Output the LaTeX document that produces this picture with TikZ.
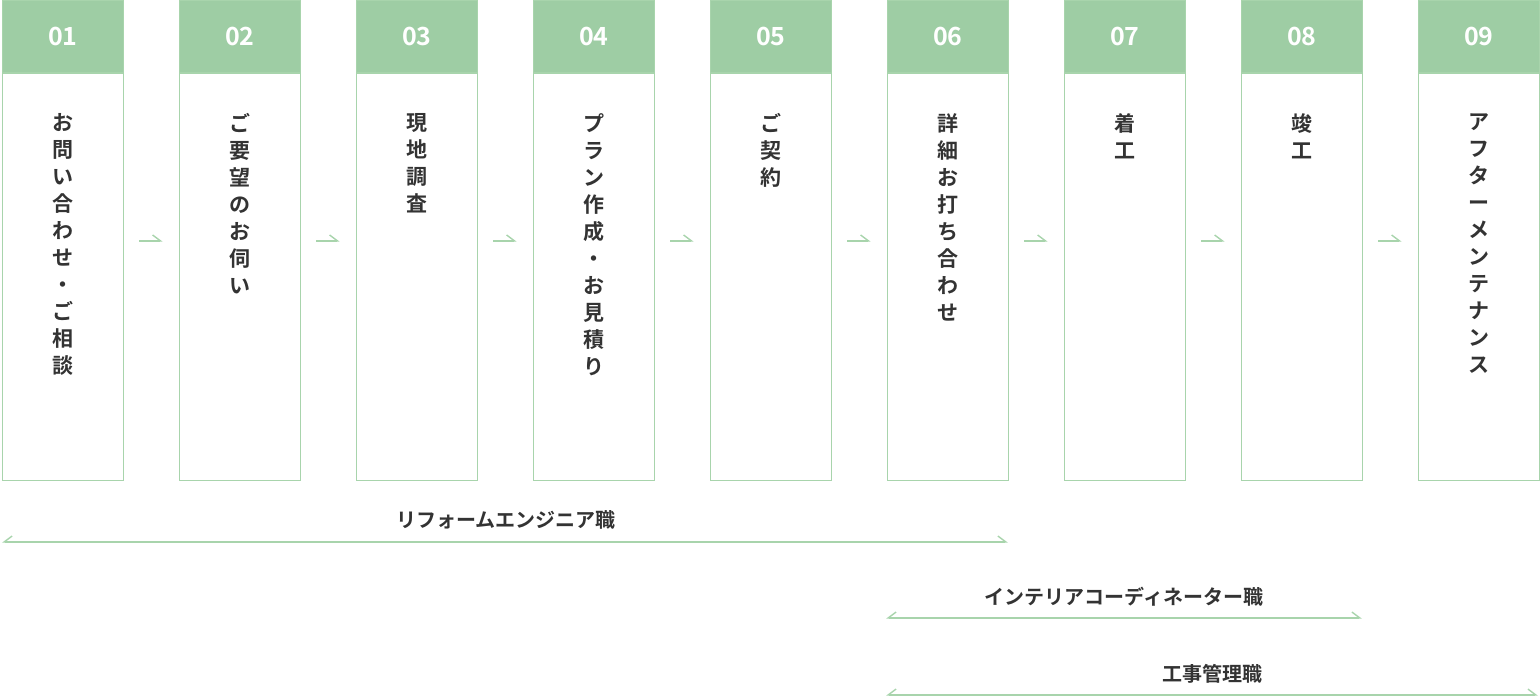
\documentclass[tikz,border=0pt]{standalone}
\usepackage{fontspec}
\setmainfont{Noto Sans CJK JP Bold}
\usetikzlibrary{arrows.meta,positioning}
\definecolor{stepgreen}{HTML}{9ECDA4}
\definecolor{stepline}{HTML}{A8D4AC}
\definecolor{steptext}{HTML}{333333}
\tikzset{
  head/.style = {fill = stepgreen, draw = stepline, minimum width = 60.5pt, minimum height = 36pt, inner sep = 0pt, text = white, font = \fontsize{12.5}{12.5}\selectfont, anchor = north west},
  body/.style = {draw = stepline, line width = 0.7pt, minimum width = 60.5pt, minimum height = 203.5pt, inner sep = 0pt, anchor = north},
  vtext/.style = {text = steptext, font = \fontsize{10.5}{13.5}\selectfont, align = center, anchor = north, inner sep = 0pt},
  flow/.style = {draw = stepline, line width = 0.7pt, -{Straight Barb[left, length = 4pt, width = 6pt]}, shorten < = 7.5pt, shorten > = 8pt},
  span/.style = {draw = stepline, line width = 0.7pt, {Straight Barb[right, length = 4pt, width = 6pt]}-{Straight Barb[left, length = 4pt, width = 6pt]}},
  role/.style = {text = steptext, font = \fontsize{10}{10}\selectfont}
}
\begin{document}
\begin{tikzpicture}[x = 0.5pt, y = -0.5pt]
\useasboundingbox (0,0) rectangle (1540,698);
\foreach \n/\t in {1/{お\\問\\い\\合\\わ\\せ\\・\\ご\\相\\談},
                   2/{ご\\要\\望\\の\\お\\伺\\い},
                   3/{現\\地\\調\\査},
                   4/{プ\\ラ\\ン\\作\\成\\・\\お\\見\\積\\り},
                   5/{ご\\契\\約},
                   6/{詳\\細\\お\\打\\ち\\合\\わ\\せ},
                   7/{着\\工},
                   8/{竣\\工},
                   9/{ア\\フ\\タ\\ー\\メ\\ン\\テ\\ナ\\ン\\ス}} {
  \node[head] (h\n) at ({2 + 177*(\n-1)}, 0) {0\n};
  \node[body] (b\n) at (h\n.south) {};
  \node[vtext] (t\n) at ([yshift = -20pt]h\n.south) {\t};
}
\foreach \a/\b in {1/2,2/3,3/4,4/5,5/6,6/7,7/8,8/9}
  \draw[flow] (b\a.east |- 0,241) -- (b\b.west |- 0,241);
% roles
\coordinate (r1a) at (2,542);   \coordinate (r1b) at (1008,542);
\coordinate (r2a) at (886,618); \coordinate (r2b) at (1362,618);
\coordinate (r3a) at (886,695); \coordinate (r3b) at (1538,695);
\draw[span] (r1a) -- (r1b);
\draw[span] (r2a) -- (r2b);
\draw[span] (r3a) -- (r3b);
\node[role] (l1) at (506,520) {リフォームエンジニア職};
\node[role] (l2) at (1124,597) {インテリアコーディネーター職};
\node[role] (l3) at (1212,674) {工事管理職};
\end{tikzpicture}
\end{document}
